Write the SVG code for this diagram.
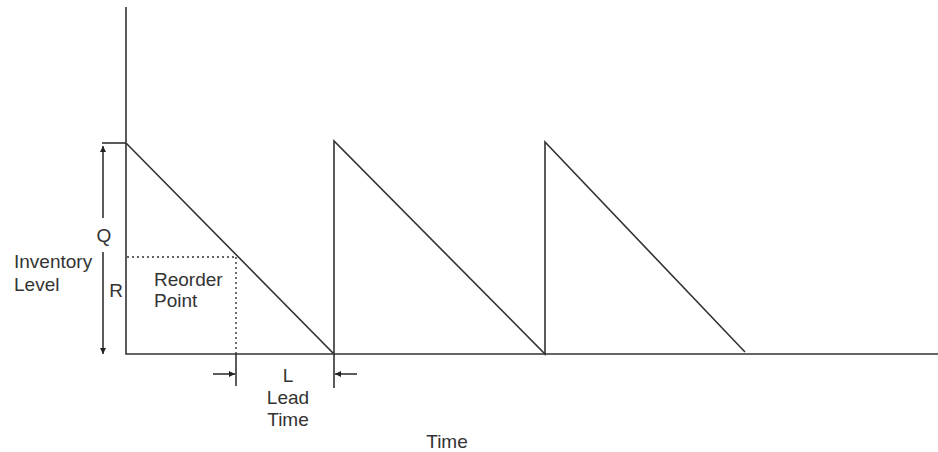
<svg xmlns="http://www.w3.org/2000/svg" width="938" height="452" viewBox="0 0 938 452">
<defs>
<marker id="ah" viewBox="0 0 10 10" refX="10" refY="5" markerWidth="6" markerHeight="6" orient="auto-start-reverse" markerUnits="userSpaceOnUse">
<path d="M0,0 L10,5 L0,10 z" fill="#222"/>
</marker>
<style>
.ln{stroke:#333;stroke-width:1.6;fill:none}
.dot{stroke:#333;stroke-width:1.4;fill:none;stroke-dasharray:2 3}
.t{font-family:"Liberation Sans",Arial,sans-serif;font-size:19px;fill:#333}
</style>
</defs>
<rect width="938" height="452" fill="#fff"/>
<g id="connectors">
<polyline class="ln" points="126,7 126,354 938,354"/>
<line class="ln" x1="102" y1="143" x2="126" y2="143"/>
<polyline class="ln" points="126,143 334,354 334,141 545,354 545,142 745,352"/>
<line class="dot" x1="127" y1="257" x2="236" y2="257"/>
<line class="dot" x1="236" y1="257" x2="236" y2="354"/>
<line class="ln" x1="103" y1="218" x2="103" y2="146" marker-end="url(#ah)"/>
<line class="ln" x1="103" y1="252" x2="103" y2="354" marker-end="url(#ah)"/>
<line class="ln" x1="236" y1="354" x2="236" y2="386"/>
<line class="ln" x1="334" y1="354" x2="334" y2="388"/>
<line class="ln" x1="213" y1="374" x2="235" y2="374" marker-end="url(#ah)"/>
<line class="ln" x1="357" y1="374" x2="335" y2="374" marker-end="url(#ah)"/>
</g>
<g id="label-q"><text class="t" x="104" y="242" text-anchor="middle">Q</text></g>
<g id="label-r"><text class="t" x="116" y="297" text-anchor="middle">R</text></g>
<g id="label-inventory"><text class="t" x="14" y="268">Inventory</text><text class="t" x="14" y="291">Level</text></g>
<g id="label-reorder"><text class="t" x="154" y="286">Reorder</text><text class="t" x="154" y="307">Point</text></g>
<g id="label-lead"><text class="t" x="288" y="382" text-anchor="middle">L</text><text class="t" x="288" y="404" text-anchor="middle">Lead</text><text class="t" x="288" y="426" text-anchor="middle">Time</text></g>
<g id="label-time"><text class="t" x="447" y="448" text-anchor="middle">Time</text></g>
</svg>
